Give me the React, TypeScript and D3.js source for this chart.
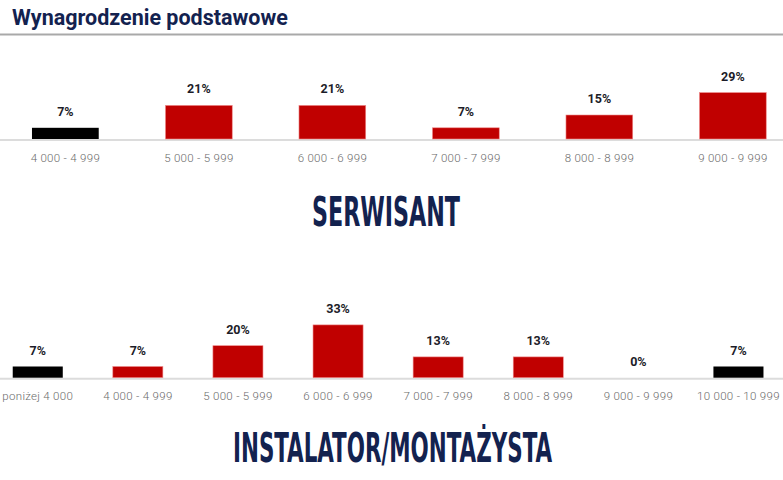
import React from "react";
import * as d3 from "d3";

const title = "Wynagrodzenie podstawowe";

const serwisantCategories = ["4 000 - 4 999", "5 000 - 5 999", "6 000 - 6 999", "7 000 - 7 999", "8 000 - 8 999", "9 000 - 9 999"];
const serwisantValues = [7, 21, 21, 7, 15, 29];
const serwisantDark = ["4 000 - 4 999"];
const serwisantLabel = "SERWISANT";

const instalatorCategories = ["poniżej 4 000", "4 000 - 4 999", "5 000 - 5 999", "6 000 - 6 999", "7 000 - 7 999", "8 000 - 8 999", "9 000 - 9 999", "10 000 - 10 999"];
const instalatorValues = [7, 7, 20, 33, 13, 13, 0, 7];
const instalatorDark = ["poniżej 4 000", "10 000 - 10 999"];
const instalatorLabel = "INSTALATOR/MONTAŻYSTA";

const W = 783;
const H = 480;
const NAVY = "#13224f";
const RED = "#c00000";

type PanelProps = {
  cats: string[];
  vals: number[];
  dark: string[];
  range: [number, number];
  baseline: number;
};

function Panel({ cats, vals, dark, range, baseline }: PanelProps) {
  const x = d3.scaleBand<string>().domain(cats).range(range).paddingInner(0.5).paddingOuter(0.25);
  const y = d3.scaleLinear().domain([0, 35]).range([baseline, baseline - 56]);
  return (
    <g>
      <line x1={0} x2={W} y1={baseline + 1} y2={baseline + 1} stroke="#dcdcdc" strokeWidth={2} />
      {cats.map((c, i) => {
        const v = vals[i];
        const bx = x(c)!;
        const top = y(v);
        const cx = bx + x.bandwidth() / 2;
        const isDark = dark.includes(c);
        return (
          <g key={c}>
            {v > 0 && (
              <rect
                x={bx}
                y={top}
                width={x.bandwidth()}
                height={baseline - top}
                fill={isDark ? "#000" : RED}
                stroke={isDark ? "none" : "#ef8a8a"}
                strokeWidth={0.6}
              />
            )}
            <text
              x={cx}
              y={top - 12}
              textAnchor="middle"
              fontFamily="Roboto, sans-serif"
              fontWeight={700}
              fontSize={12.5}
              fill="#1c1c28"
            >
              {v}%
            </text>
            <text
              x={cx}
              y={baseline + 22.5}
              textAnchor="middle"
              fontFamily="Roboto, sans-serif"
              fontWeight={300}
              fontSize={11.5}
              letterSpacing={0.3}
              fill="#6a6a6a"
            >
              {c}
            </text>
          </g>
        );
      })}
    </g>
  );
}

export default function App() {
  return (
    <svg width={W} height={H} style={{ position: "absolute", left: 0, top: 0, background: "#fff" }}>
      <text x={12} y={24.5} fontFamily="Roboto, sans-serif" fontWeight={700} fontSize={21.5} fill={NAVY}>
        {title}
      </text>
      <line x1={0} x2={W} y1={34.5} y2={34.5} stroke="#a9a9a9" strokeWidth={2} />
      <Panel cats={serwisantCategories} vals={serwisantValues} dark={serwisantDark} range={[-1.4, 799.6]} baseline={139} />
      <text
        x={386}
        y={226}
        textAnchor="middle"
        fontFamily="'Liberation Sans Narrow', 'DejaVu Sans Condensed', sans-serif"
        fontWeight={700}
        fontSize={41}
        fill={NAVY}
        textLength={148}
        lengthAdjust="spacingAndGlyphs"
      >
        {serwisantLabel}
      </text>
      <Panel cats={instalatorCategories} vals={instalatorValues} dark={instalatorDark} range={[-12.3, 788.5]} baseline={377.7} />
      <text
        x={392.5}
        y={462}
        textAnchor="middle"
        fontFamily="'Liberation Sans Narrow', 'DejaVu Sans Condensed', sans-serif"
        fontWeight={700}
        fontSize={41}
        fill={NAVY}
        textLength={319}
        lengthAdjust="spacingAndGlyphs"
      >
        {instalatorLabel}
      </text>
    </svg>
  );
}
